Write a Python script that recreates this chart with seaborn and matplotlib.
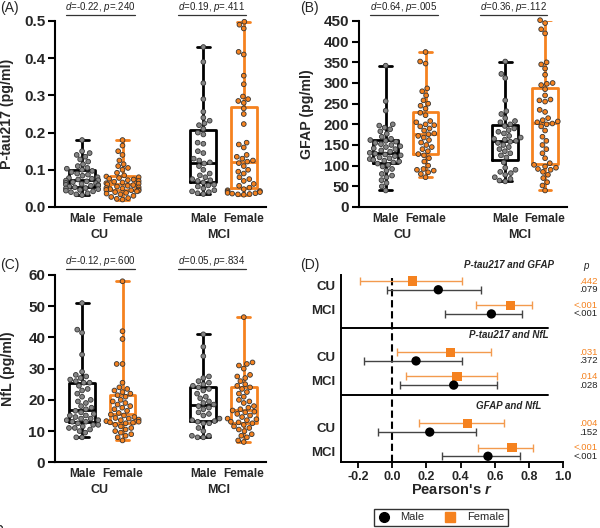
import numpy as np
import pandas as pd
import matplotlib
matplotlib.use("Agg")
import matplotlib.pyplot as plt
import matplotlib.transforms as mtransforms
from matplotlib.lines import Line2D
import seaborn as sns

sns.set_theme(style="ticks")
plt.rcParams["font.family"] = ["Liberation Sans", "DejaVu Sans"]
plt.rcParams["font.weight"] = "bold"
plt.rcParams["mathtext.fontset"] = "custom"
plt.rcParams["mathtext.rm"] = "Liberation Sans:normal"
plt.rcParams["mathtext.it"] = "Liberation Sans:italic:normal"
plt.rcParams["mathtext.bf"] = "Liberation Sans:bold"
plt.rcParams["mathtext.bfit"] = "Liberation Sans:italic:bold"

ORANGE = "#F5821F"
ORANGE_LIGHT = "#F39A4E"

# ---------------- data ----------------
groups = ["CU", "MCI"]
sexes = ["Male", "Female"]

ptau_cu_male = [0.180, 0.150, 0.145, 0.140, 0.135, 0.128, 0.122, 0.115, 0.110, 0.105, 0.103,
                0.100, 0.097, 0.094, 0.090, 0.087, 0.084, 0.080, 0.078, 0.076, 0.074, 0.072,
                0.071, 0.069, 0.067, 0.065, 0.064, 0.062, 0.060, 0.059, 0.058, 0.057, 0.055,
                0.053, 0.051, 0.050, 0.048, 0.046, 0.044, 0.042, 0.040, 0.037, 0.034, 0.032]
ptau_cu_female = [0.180, 0.165, 0.150, 0.140, 0.125, 0.115, 0.110, 0.105, 0.100, 0.092, 0.085,
                  0.082, 0.080, 0.078, 0.076, 0.074, 0.072, 0.070, 0.068, 0.066, 0.064, 0.063,
                  0.061, 0.059, 0.057, 0.055, 0.053, 0.051, 0.050, 0.048, 0.047, 0.046, 0.045,
                  0.044, 0.042, 0.040, 0.038, 0.036, 0.034, 0.030, 0.027, 0.024, 0.022, 0.020]
ptau_mci_male = [0.430, 0.390, 0.333, 0.290, 0.256, 0.240, 0.232, 0.225, 0.220, 0.210,
                 0.200, 0.195, 0.173, 0.170, 0.150, 0.145, 0.130, 0.125, 0.120,
                 0.117, 0.110, 0.100, 0.090, 0.085, 0.080, 0.075, 0.072, 0.070,
                 0.066, 0.060, 0.058, 0.055, 0.050, 0.045, 0.042, 0.040, 0.037, 0.035]
ptau_mci_female = [0.498, 0.490, 0.480, 0.417, 0.410, 0.353, 0.330, 0.297, 0.290, 0.285, 0.280,
                   0.265, 0.250, 0.223, 0.173, 0.168, 0.160, 0.140, 0.135, 0.130, 0.125, 0.122,
                   0.118, 0.110, 0.100, 0.095, 0.090, 0.080, 0.075, 0.070, 0.062, 0.057, 0.052,
                   0.048, 0.045, 0.043, 0.042, 0.040, 0.038, 0.037, 0.036, 0.035, 0.034, 0.033]

gfap_cu_male = [342, 256, 233, 200, 197, 192, 188, 183, 177, 170, 165, 162,
                160, 158, 155, 152, 150, 147, 145, 142, 140, 137, 134, 131,
                129, 127, 125, 123, 120, 118, 116, 114, 112, 110, 108,
                105, 102, 98, 92, 88, 80, 76, 72, 65, 58, 50, 40]
gfap_cu_female = [375, 352, 347, 287, 280, 270, 258, 250, 245, 238,
                  228, 222, 208, 205, 200, 198, 195, 190, 185, 178,
                  176, 172, 168, 162, 156, 150, 145, 140, 135, 128,
                  125, 118, 110, 100, 92, 90, 88, 84, 80, 72]
gfap_mci_male = [352, 322, 312, 258, 232, 225, 215, 208, 205,
                 200, 196, 190, 186, 182, 178, 172, 168, 165, 163,
                 160, 158, 155, 150, 145, 140, 135, 130, 125,
                 120, 108, 95, 90, 85, 82, 78, 72, 68, 64, 62]
gfap_mci_female = [452, 445, 430, 420, 350, 345, 335, 320, 300, 298, 295,
                   285, 270, 260, 258, 255, 235, 230, 215, 210, 207, 205,
                   202, 200, 195, 185, 170, 160, 150, 140, 130, 118, 106,
                   102, 98, 95, 92, 90, 85, 78, 70, 60, 52, 40]

nfl_cu_male = [51, 42.5, 41.5, 34.5, 29, 28, 27.5, 27, 26.5, 26, 25.5, 25.5,
               24.5, 23.5, 23, 22, 21, 20, 19.5, 19, 18, 17.5, 17,
               16.5, 16, 15.5, 15, 15, 14.5, 14, 14, 13.5, 13.5, 13,
               13, 12.5, 12, 12, 11.5, 11, 11, 10.5, 10, 9.5, 8, 8]
nfl_cu_female = [58, 42, 39.5, 31.5, 31.5, 25.5, 24, 23.5, 23, 22.5, 22,
                 21.5, 21, 20, 19.5, 19, 18.5, 18, 17.5, 17, 16.5, 15.8,
                 15.3, 15, 14.5, 14.2, 14, 13.7, 13.5, 13.2, 13, 12.8, 12.7,
                 12.5, 12, 11.5, 11, 10.5, 10, 9.5, 9, 8.5, 8, 7]
nfl_mci_male = [41, 37, 34, 27.5, 27, 26, 25.5, 25, 24.5,
                24, 23.5, 23, 22, 21, 20.5, 19.5, 19, 18.5,
                18, 17.5, 17, 16, 15.5, 15, 14, 13.5, 13.2,
                13, 12.5, 12.5, 11, 10, 8.5, 8.5, 8, 8]
nfl_mci_female = [46.5, 32, 31.5, 31, 30, 28, 27.5, 27, 26, 25, 24.5,
                  24, 23.5, 22.5, 22, 21, 20, 19.5, 19, 18, 17.5, 17,
                  16.6, 16.2, 16, 15.5, 15, 14.5, 14, 13.8, 13.5, 13, 12.8,
                  12.5, 12, 11.5, 11, 10.5, 10, 9, 8.5, 8, 7, 6.5]

ptau_stats = ["-0.22, ", ".240", "0.19, ", ".411"]
gfap_stats = ["0.64, ", ".005", "0.36, ", ".112"]
nfl_stats = ["-0.12, ", ".600", "0.05, ", ".834"]

ptau_ticks = [0.0, 0.1, 0.2, 0.3, 0.4, 0.5]
gfap_ticks = [0, 50, 100, 150, 200, 250, 300, 350, 400, 450]
nfl_ticks = [0, 10, 20, 30, 40, 50, 60]

# Forest plot (Pearson's r with 95% CI)
pairs = ["P-tau217 and GFAP", "P-tau217 and NfL", "GFAP and NfL"]
r_cu_female = [0.12, 0.34, 0.44]
lo_cu_female = [-0.19, 0.03, 0.155]
hi_cu_female = [0.41, 0.58, 0.655]
r_cu_male = [0.27, 0.14, 0.22]
lo_cu_male = [-0.03, -0.165, -0.08]
hi_cu_male = [0.52, 0.41, 0.49]
r_mci_female = [0.69, 0.38, 0.70]
lo_mci_female = [0.49, 0.08, 0.50]
hi_mci_female = [0.82, 0.61, 0.825]
r_mci_male = [0.58, 0.36, 0.56]
lo_mci_male = [0.31, 0.045, 0.29]
hi_mci_male = [0.76, 0.61, 0.75]
p_cu_female = [".442", ".031", ".004"]
p_cu_male = [".079", ".372", ".152"]
p_mci_female = ["<.001", ".014", "<.001"]
p_mci_male = ["<.001", ".028", "<.001"]

# ---------------- layout helpers ----------------
W, H = 600, 528
fig = plt.figure(figsize=(W / 100, H / 100), dpi=100)


def rect(x0, y_top, x1, y_bottom):
    return [x0 / W, 1 - y_bottom / H, (x1 - x0) / W, (y_bottom - y_top) / H]


axA = fig.add_axes(rect(55, 21, 266, 207))
axB = fig.add_axes(rect(359, 21, 567, 207))
axC = fig.add_axes(rect(55, 275, 266, 462.3))
axD = fig.add_axes(rect(340.7, 275, 563.3, 462.3))

ORDER = ["CU Male", "CU Female", "gap", "MCI Male", "MCI Female"]
HUE_ORDER = ["CU Male", "CU Female", "MCI Male", "MCI Female"]
LINE_PAL = {"CU Male": "black", "CU Female": ORANGE, "MCI Male": "black", "MCI Female": ORANGE}
DOT_PAL = {"CU Male": "#858585", "CU Female": ORANGE, "MCI Male": "#858585", "MCI Female": ORANGE}


def box_panel(ax, cu_m, cu_f, mci_m, mci_f, ticks, ylabel, stats, label_x):
    rows = []
    for name, vals in zip(HUE_ORDER, [cu_m, cu_f, mci_m, mci_f]):
        rows += [(name, v) for v in vals]
    df = pd.DataFrame(rows, columns=["group", "value"])
    sns.boxplot(data=df, x="group", y="value", hue="group", order=ORDER,
                hue_order=HUE_ORDER, palette=LINE_PAL, fill=False,
                whis=(0, 100), width=0.64, linewidth=2, showfliers=False,
                legend=False, ax=ax)
    sns.swarmplot(data=df, x="group", y="value", hue="group", order=ORDER,
                  hue_order=HUE_ORDER, palette=DOT_PAL, size=3.4,
                  edgecolor="#333333", linewidth=0.6, legend=False,
                  clip_on=False, warn_thresh=1.0, ax=ax, zorder=3)
    for c in ax.collections:
        c.set_clip_on(False)
    ax.set_xlim(-0.67, 4.55)
    ax.set_ylim(ticks[0], ticks[-1])
    ax.set_yticks(ticks)
    if isinstance(ticks[1], float):
        ax.set_yticklabels([f"{t:.1f}" for t in ticks])
    ax.tick_params(axis="y", length=5, width=1.5, labelsize=11, pad=2, color="black")
    ax.set_xticks([0, 1, 3, 4])
    ax.set_xticklabels(["Male", "Female", "Male", "Female"], fontsize=8.5, fontweight="bold")
    ax.tick_params(axis="x", length=0, pad=4)
    for lab in ax.get_yticklabels():
        lab.set_fontweight("bold")
    sns.despine(ax=ax)
    for sp in ["left", "bottom"]:
        ax.spines[sp].set_linewidth(1.5)
        ax.spines[sp].set_color("black")
    ax.set_xlabel("")
    ax.set_ylabel(ylabel, fontsize=10.2, fontweight="bold")
    ax.yaxis.set_label_coords(label_x, 0.5)
    trans = mtransforms.blended_transform_factory(ax.transData, ax.transAxes)
    ax.text(0.43, -0.15, "CU", transform=trans, ha="center", va="center", fontsize=9, fontweight="bold")
    ax.text(3.37, -0.15, "MCI", transform=trans, ha="center", va="center", fontsize=9, fontweight="bold")
    for (x0, x1), d, p in [((-0.4, 1.31), stats[0], stats[1]), ((2.37, 4.05), stats[2], stats[3])]:
        ax.plot([x0, x1], [1.031, 1.031], color="#333333", lw=0.9, transform=trans, clip_on=False)
        ax.text((x0 + x1) / 2, 1.037, r"$\mathit{d}$=" + d + r"$\mathit{p}$=" + p,
                transform=trans, ha="center", va="bottom", fontsize=7.0,
                fontweight="normal", color="#222222")


box_panel(axA, ptau_cu_male, ptau_cu_female, ptau_mci_male, ptau_mci_female,
          ptau_ticks, "P-tau217 (pg/ml)", ptau_stats, -0.195)
box_panel(axB, gfap_cu_male, gfap_cu_female, gfap_mci_male, gfap_mci_female,
          gfap_ticks, "GFAP (pg/ml)", gfap_stats, -0.215)
box_panel(axC, nfl_cu_male, nfl_cu_female, nfl_mci_male, nfl_mci_female,
          nfl_ticks, "NfL (pg/ml)", nfl_stats, -0.19)

# ---------------- forest plot ----------------
row_offsets = {"CU Female": 0.30, "CU Male": 0.43, "MCI Female": 0.66, "MCI Male": 0.79}
frows = []
for b in range(3):
    for key, r, lo, hi, p in [
        ("CU Female", r_cu_female[b], lo_cu_female[b], hi_cu_female[b], p_cu_female[b]),
        ("CU Male", r_cu_male[b], lo_cu_male[b], hi_cu_male[b], p_cu_male[b]),
        ("MCI Female", r_mci_female[b], lo_mci_female[b], hi_mci_female[b], p_mci_female[b]),
        ("MCI Male", r_mci_male[b], lo_mci_male[b], hi_mci_male[b], p_mci_male[b]),
    ]:
        frows.append(dict(block=b, row=key, sex=key.split()[1], r=r, lo=lo, hi=hi, p=p,
                          y=b + 0.06 * b + row_offsets[key]))
fdf = pd.DataFrame(frows)

ax = axD
for sex, ecol in [("Female", ORANGE_LIGHT), ("Male", "#444444")]:
    sub = fdf[fdf.sex == sex]
    ax.errorbar(sub.r, sub.y, xerr=[sub.r - sub.lo, sub.hi - sub.r], fmt="none",
                ecolor=ecol, elinewidth=1.0, capsize=3, capthick=1.0, zorder=2)
sns.scatterplot(data=fdf, x="r", y="y", hue="sex", style="sex",
                hue_order=["Male", "Female"], palette={"Male": "black", "Female": ORANGE},
                markers={"Male": "o", "Female": "s"}, s=45, edgecolor="none",
                legend=False, ax=ax, zorder=3)
ax.axvline(0, color="black", lw=1.5, ls=(0, (3.5, 1.8)), zorder=1)
for b in (1, 2):
    ax.plot([-0.3, 0.91], [b, b], color="black", lw=1.4, clip_on=False)
ax.set_xlim(-0.3, 1.0)
ax.set_ylim(3.0, 0.21)
ax.set_xticks([-0.2, 0.0, 0.2, 0.4, 0.6, 0.8, 1.0])
ax.set_xticklabels(["-0.2", "0.0", "0.2", "0.4", "0.6", "0.8", "1.0"], fontsize=9, fontweight="bold")
ytk, ylb = [], []
for b in range(3):
    ytk += [b + 0.06 * b + 0.365, b + 0.06 * b + 0.725]
    ylb += ["CU", "MCI"]
ax.set_yticks(ytk)
ax.set_yticklabels(ylb, fontsize=9.5, fontweight="bold")
ax.tick_params(axis="y", length=0, pad=4)
ax.tick_params(axis="x", length=4, width=1.3, pad=2, color="black")
sns.despine(ax=ax)
for sp in ["left", "bottom"]:
    ax.spines[sp].set_linewidth(1.4)
    ax.spines[sp].set_color("black")
ax.set_xlabel(r"Pearson's $\mathbfit{r}$", fontsize=10.5, fontweight="bold")
ax.xaxis.set_label_coords(0.5, -0.11)
ax.set_ylabel("")
for b, title in enumerate(pairs):
    ax.text(0.68, b + 0.06 + 0.05 * b, title, ha="center", va="center", fontsize=7,
            fontweight="bold", fontstyle="italic", clip_on=False)
for _, rw in fdf.iterrows():
    col = ORANGE if rw.sex == "Female" else "#222222"
    ax.text(1.2, rw.y, rw.p, ha="right", va="center", fontsize=6.8, fontweight="normal",
            color=col, clip_on=False)
ax.text(1.13, 0.076, "p", ha="center", va="center", fontsize=7, fontweight="normal",
        fontstyle="italic", clip_on=False)

handles = [Line2D([], [], marker="o", color="black", ls="none", markersize=7),
           Line2D([], [], marker="s", color=ORANGE, ls="none", markersize=6.5)]
leg = fig.legend(handles, ["Male", "Female"], ncol=2, loc="center",
                 bbox_to_anchor=(441 / W, 1 - 517.5 / H), frameon=True, fancybox=False,
                 handlelength=1.0, handletextpad=1.0, columnspacing=1.8, borderpad=0.35,
                 prop={"weight": "normal", "size": 8})
leg.get_frame().set_edgecolor("black")
leg.get_frame().set_linewidth(1.0)

# panel letters
for txt, x, y in [("(A)", 0, 8), ("(B)", 300, 8), ("(C)", 0, 265), ("(D)", 300, 265)]:
    fig.text(x / W, 1 - y / H, txt, ha="left", va="center", fontsize=10, fontweight="normal")

fig.savefig("out.png", dpi=100, facecolor="white")
